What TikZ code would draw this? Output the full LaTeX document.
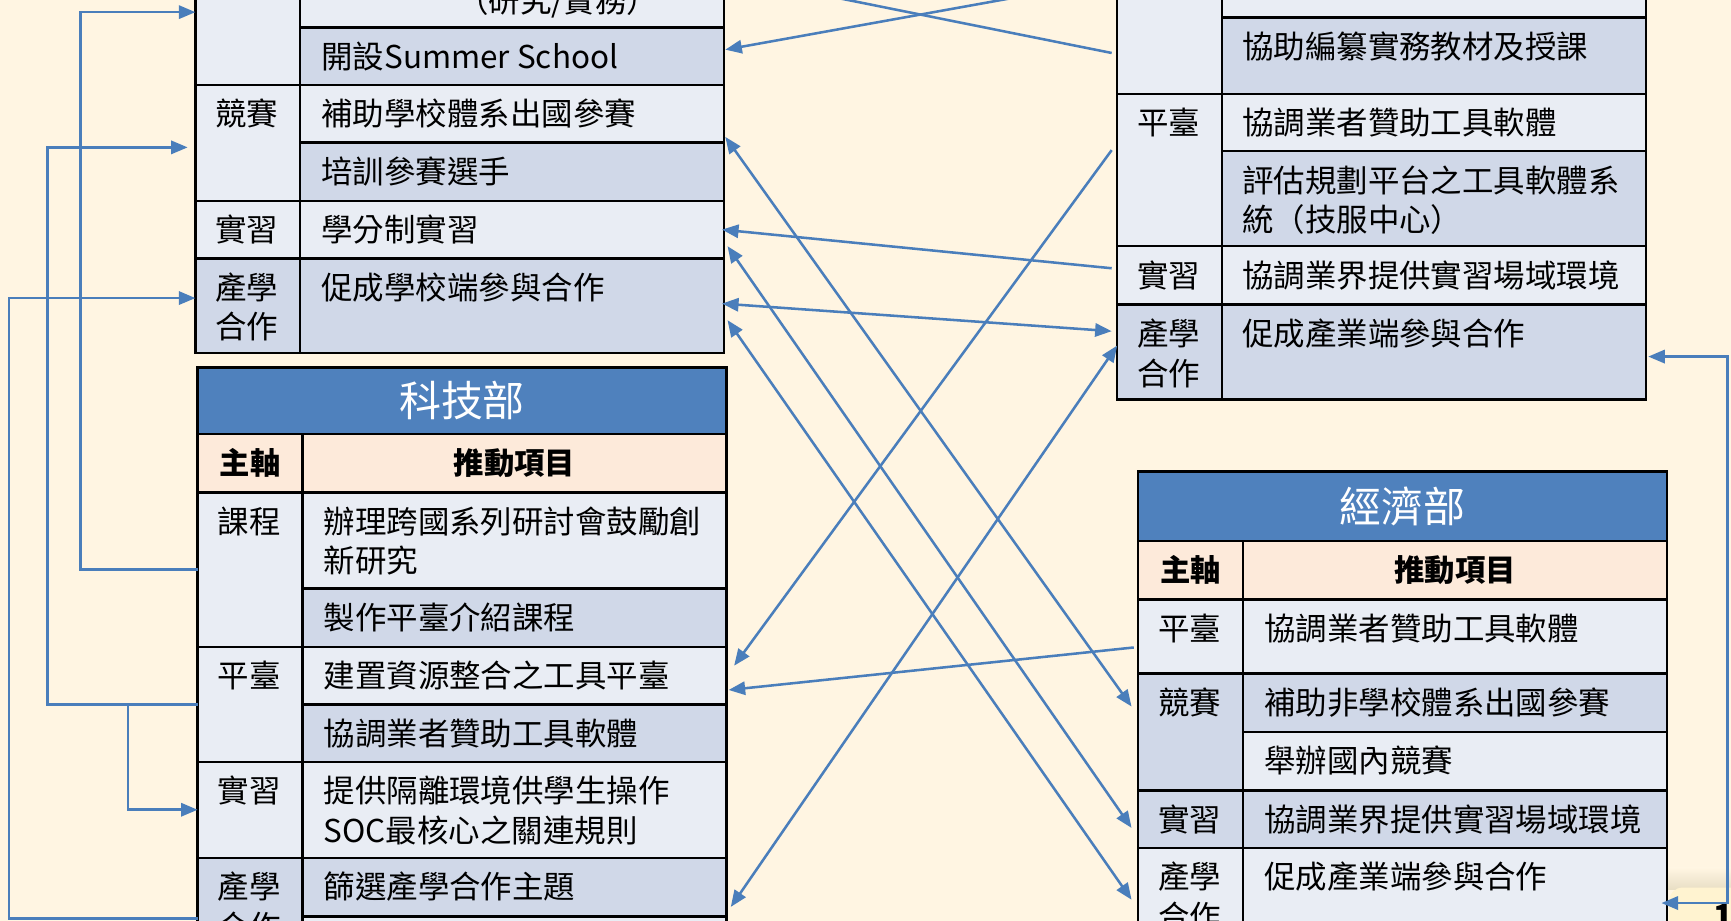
\documentclass[tikz,border=0pt]{standalone}
\usepackage{fontspec}
\setmainfont{Noto Sans CJK TC}
\usetikzlibrary{arrows.meta,calc,fit}

\definecolor{slidebg}{RGB}{255,245,226}
\definecolor{headblue}{RGB}{79,129,189}
\definecolor{subpeach}{RGB}{253,234,218}
\definecolor{rowlite}{RGB}{233,237,244}
\definecolor{rowdark}{RGB}{208,216,232}
\definecolor{linkblue}{RGB}{74,126,187}
\definecolor{numbox}{RGB}{255,243,208}
\definecolor{numshadow}{RGB}{232,222,196}

\begin{document}
\begin{tikzpicture}[x=1pt,y=1pt,yscale=-1,xscale=1,
    cell/.style={draw=black,line width=2.2pt,inner sep=0pt,outer sep=0pt},
    litecell/.style={cell,fill=rowlite},
    darkcell/.style={cell,fill=rowdark},
    headcell/.style={cell,fill=headblue},
    subcell/.style={cell,fill=subpeach},
    txt/.style={anchor=base west,inner sep=0pt,align=left,font=\fontsize{28.5}{36}\selectfont},
    headtxt/.style={inner sep=0pt,text=white,font=\fontsize{38}{40}\selectfont},
    subtxt/.style={inner sep=0pt,font=\bfseries\fontsize{27.5}{30}\selectfont},
    link/.style={draw=linkblue,line width=2.3pt,-{Triangle[length=15pt,width=12pt]}},
    bilink/.style={link,{Triangle[length=15pt,width=12pt]}-{Triangle[length=15pt,width=12pt]}}]
    %set diagram to the slide area
    \useasboundingbox (0,0) rectangle (1568,834);
    \clip (0,0) rectangle (1568,834);
    \fill[slidebg] (0,0) rectangle (1568,834);

    %Shape: Table, upper left (cut at top)
    \node[litecell, fit={(177,-200) (272,77)}] (tlCourseL) {};
    \node[litecell, fit={(272,-70) (656,25)}] (tlR1) {};
    \node[darkcell, fit={(272,25) (656,77)}] (tlSum) {};
    \node[litecell, fit={(177,77) (272,182)}] (tlCompL) {};
    \node[litecell, fit={(272,77) (656,129)}] (tlComp1) {};
    \node[darkcell, fit={(272,129) (656,182)}] (tlComp2) {};
    \node[litecell, fit={(177,182) (272,234)}] (tlInternL) {};
    \node[litecell, fit={(272,182) (656,234)}] (tlIntern) {};
    \node[darkcell, fit={(177,234) (272,320)}] (tlCoopL) {};
    \node[darkcell, fit={(272,234) (656,320)}] (tlCoop) {};

    %Shape: Table 科技部
    \node[headcell, fit={(179,333) (658,393)}] (msHead) {};
    \node[subcell, fit={(179,393) (274,446)}] (msSubL) {};
    \node[subcell, fit={(274,393) (658,446)}] (msSubR) {};
    \node[litecell, fit={(179,446) (274,586)}] (msCourseL) {};
    \node[litecell, fit={(274,446) (658,533)}] (msC1) {};
    \node[darkcell, fit={(274,533) (658,586)}] (msC2) {};
    \node[litecell, fit={(179,586) (274,690)}] (msPlatL) {};
    \node[litecell, fit={(274,586) (658,638)}] (msP1) {};
    \node[darkcell, fit={(274,638) (658,690)}] (msP2) {};
    \node[litecell, fit={(179,690) (274,777)}] (msInternL) {};
    \node[litecell, fit={(274,690) (658,777)}] (msIntern) {};
    \node[darkcell, fit={(179,777) (274,900)}] (msCoopL) {};
    \node[darkcell, fit={(274,777) (658,830)}] (msCoop1) {};
    \node[litecell, fit={(274,830) (658,900)}] (msCoop2) {};

    %Shape: Table, upper right (cut at top)
    \node[litecell, fit={(1012,-200) (1107,85)}] (trCourseL) {};
    \node[litecell, fit={(1107,-60) (1491,16)}] (trR1) {};
    \node[darkcell, fit={(1107,16) (1491,85)}] (trR2) {};
    \node[litecell, fit={(1012,85) (1107,223)}] (trPlatL) {};
    \node[litecell, fit={(1107,85) (1491,137)}] (trP1) {};
    \node[darkcell, fit={(1107,137) (1491,223)}] (trP2) {};
    \node[litecell, fit={(1012,223) (1107,276)}] (trInternL) {};
    \node[litecell, fit={(1107,223) (1491,276)}] (trIntern) {};
    \node[darkcell, fit={(1012,276) (1107,362)}] (trCoopL) {};
    \node[darkcell, fit={(1107,276) (1491,362)}] (trCoop) {};

    %Shape: Table 經濟部
    \node[headcell, fit={(1031,427) (1510,490)}] (meHead) {};
    \node[subcell, fit={(1031,490) (1126,543)}] (meSubL) {};
    \node[subcell, fit={(1126,490) (1510,543)}] (meSubR) {};
    \node[litecell, fit={(1031,543) (1126,610)}] (mePlatL) {};
    \node[litecell, fit={(1126,543) (1510,610)}] (meP1) {};
    \node[darkcell, fit={(1031,610) (1126,716)}] (meCompL) {};
    \node[darkcell, fit={(1126,610) (1510,663)}] (meComp1) {};
    \node[litecell, fit={(1126,663) (1510,716)}] (meComp2) {};
    \node[darkcell, fit={(1031,716) (1126,768)}] (meInternL) {};
    \node[darkcell, fit={(1126,716) (1510,768)}] (meIntern) {};
    \node[litecell, fit={(1031,768) (1126,900)}] (meCoopL) {};
    \node[litecell, fit={(1126,768) (1510,900)}] (meCoop) {};

    % Text Node (two-line texts sit on the baseline of their last line)
    \node[txt] (tlR1T) at (414,11) {（研究/實務）};
    \node[txt] (tlSumT) at (291,62) {開設Summer School};
    \node[txt] (tlCompLT) at (195,114) {競賽};
    \node[txt] (tlComp1T) at (291,114) {補助學校體系出國參賽};
    \node[txt] (tlComp2T) at (291,166) {培訓參賽選手};
    \node[txt] (tlInternLT) at (195,219) {實習};
    \node[txt] (tlInternT) at (291,219) {學分制實習};
    \node[txt] (tlCoopLT) at (195,307) {產學\\合作};
    \node[txt] (tlCoopT) at (291,271) {促成學校端參與合作};
    % Text Node
    \node[headtxt] (msHeadT) at (msHead.center) {科技部};
    \node[subtxt] (msSubLT) at (msSubL.center) {主軸};
    \node[subtxt] (msSubRT) at (msSubR.center) {推動項目};
    \node[txt] (msCourseLT) at (197,483) {課程};
    \node[txt] (msC1T) at (293,519) {辦理跨國系列研討會鼓勵創\\新研究};
    \node[txt] (msC2T) at (293,570) {製作平臺介紹課程};
    \node[txt] (msPlatLT) at (197,623) {平臺};
    \node[txt] (msP1T) at (293,623) {建置資源整合之工具平臺};
    \node[txt] (msP2T) at (293,675) {協調業者贊助工具軟體};
    \node[txt] (msInternLT) at (197,727) {實習};
    \node[txt] (msInternT) at (293,763) {提供隔離環境供學生操作\\SOC最核心之關連規則};
    \node[txt] (msCoopLT) at (197,850) {產學\\合作};
    \node[txt] (msCoop1T) at (293,814) {篩選產學合作主題};
    % Text Node
    \node[txt] (trR2T) at (1125,53) {協助編纂實務教材及授課};
    \node[txt] (trPlatLT) at (1030,122) {平臺};
    \node[txt] (trP1T) at (1125,122) {協調業者贊助工具軟體};
    \node[txt] (trP2T) at (1125,210) {評估規劃平台之工具軟體系\\統（技服中心）};
    \node[txt] (trInternLT) at (1030,260) {實習};
    \node[txt] (trInternT) at (1125,260) {協調業界提供實習場域環境};
    \node[txt] (trCoopLT) at (1030,349) {產學\\合作};
    \node[txt] (trCoopT) at (1125,313) {促成產業端參與合作};
    % Text Node
    \node[headtxt] (meHeadT) at (meHead.center) {經濟部};
    \node[subtxt] (meSubLT) at (meSubL.center) {主軸};
    \node[subtxt] (meSubRT) at (meSubR.center) {推動項目};
    \node[txt] (mePlatLT) at (1049,580) {平臺};
    \node[txt] (meP1T) at (1145,580) {協調業者贊助工具軟體};
    \node[txt] (meCompLT) at (1049,647) {競賽};
    \node[txt] (meComp1T) at (1145,647) {補助非學校體系出國參賽};
    \node[txt] (meComp2T) at (1145,700) {舉辦國內競賽};
    \node[txt] (meInternLT) at (1049,753) {實習};
    \node[txt] (meInternT) at (1145,753) {協調業界提供實習場域環境};
    \node[txt] (meCoopLT) at (1049,841) {產學\\合作};
    \node[txt] (meCoopT) at (1145,805) {促成產業端參與合作};

    %Shape: slide number box
    \shade[top color=slidebg, bottom color=numshadow] (1511,786) rectangle (1568,806);
    \fill[numbox, rounded corners=12pt] (1512,804) rectangle (1620,900);
    \node[anchor=north west, inner sep=0pt, font=\bfseries\fontsize{30}{32}\selectfont] (pageNum) at (1552,819) {1};

    %Straight Lines, left loops
    \draw[link] (msCourseL.west) -- ++(-106,0) |- ($(tlCourseL.south west)+(0,-66)$);
    \draw[link] (msPlatL.west) -- ++(-63,0) coordinate (platFork) |- (msInternL.west);
    \draw[link] (platFork) -- ++(-73,0) |- ($(tlCompL.west)+(-7,4)$);
    \draw[link] ($(msCoopL.north west)+(0,55)$) -- ++(-171,0) |- ($(tlCoopL.west)+(0,-7)$);
    %Straight Lines, right loop
    \draw[bilink] ($(meCoop.east)+(-5,-16)$) -- ++(60,0) |- ($(trCoop.east)+(2,4)$);
    %Straight Lines, across
    \draw[link] ($(trCourseL.south west)+(-5,-37)$) -- (tlR1.east);
    \draw[link] ($(trCourseL.south west)+(-5,-103)$) -- ($(tlSum.east)+(1,-6)$);
    \draw[bilink] ($(meCompL.west)+(-6,-23)$) -- ($(tlComp1.east)+(1,21)$);
    \draw[link] ($(trInternL.west)+(-5,-6.5)$) -- ($(tlIntern.east)+(-2,0)$);
    \draw[bilink] ($(meInternL.west)+(-6,8)$) -- ($(tlIntern.east)+(3,15)$);
    \draw[bilink] ($(trCoopL.west)+(-5,-19)$) -- ($(tlCoop.east)+(-2,-2)$);
    \draw[bilink] ($(meCoopL.west)+(-6,-19)$) -- ($(tlCoop.east)+(3,13)$);
    \draw[link] ($(trPlatL.west)+(-5,-18)$) -- ($(msP1.east)+(7,-9)$);
    \draw[link] ($(mePlatL.west)+(-4,10)$) -- ($(msP1.east)+(2,13)$);
    \draw[bilink] ($(trCoopL.west)+(0,-6)$) -- ($(msCoop1.east)+(4,18)$);

\end{tikzpicture}
\end{document}
